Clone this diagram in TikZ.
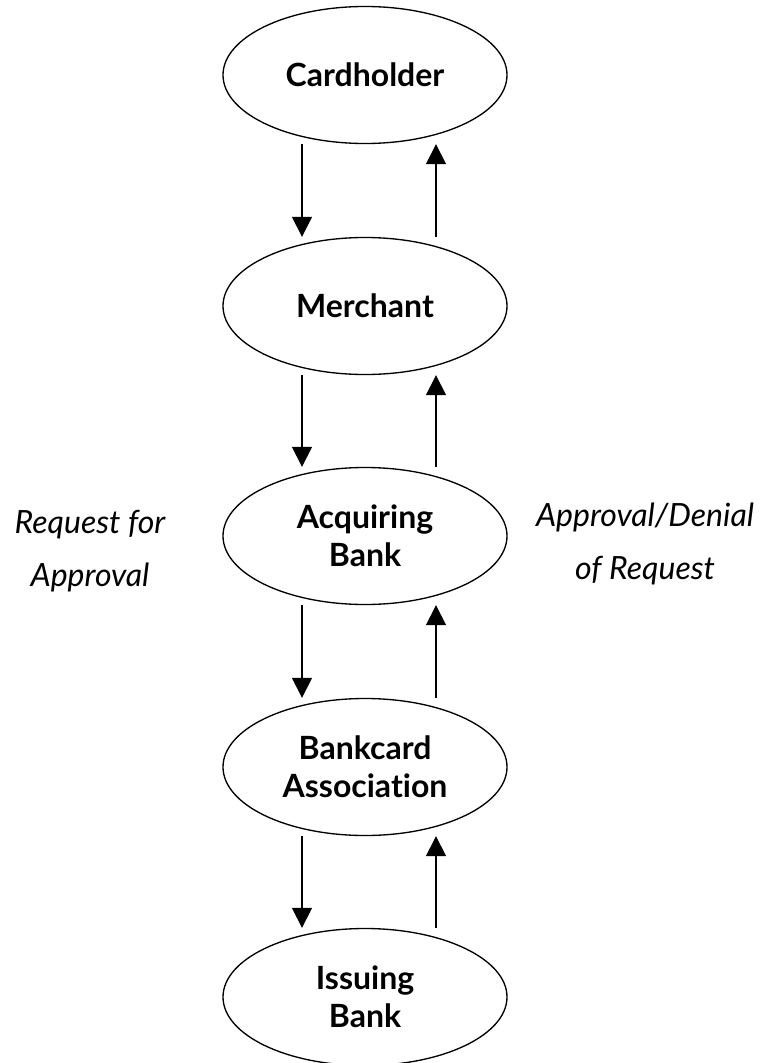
\documentclass[tikz,border=0pt]{standalone}
\usepackage{fontspec}
\setmainfont{Lato}[Ligatures=NoCommon]
\usetikzlibrary{arrows.meta,shapes.geometric}
\begin{document}
\begin{tikzpicture}[x=0.75pt,y=-0.75pt,
  party/.style={ellipse,draw,line width=1pt,minimum width=213pt,minimum height=102.75pt,inner sep=0pt,
    align=center,font=\fontsize{24}{28.5}\selectfont\bfseries},
  flow/.style={line width=1pt,-{Triangle[width=15pt,length=15pt]}},
  lbl/.style={align=center,font=\fontsize{24}{40}\selectfont\itshape}]
\useasboundingbox (0,0) rectangle (766,1063);
\node[party] (ch) at (365,75) {Cardholder};
\node[party] (me) at (365,306) {Merchant};
\node[party] (ab) at (365,536) {Acquiring\\Bank};
\node[party] (ba) at (365,767) {Bankcard\\Association};
\node[party] (ib) at (365,997) {Issuing\\Bank};
\coordinate (L) at (302,0);
\coordinate (R) at (436,0);
\foreach \a/\b in {ch/me,me/ab,ab/ba,ba/ib}{
  \draw[flow] (\a.south -| L) -- (\b.north -| L);
  \draw[flow] (\b.north -| R) -- (\a.south -| R);
}
\node[lbl] (req) at (90,551) {Request for\\Approval};
\node[lbl] (app) at (645,544) {Approval/Denial\\of Request};
\end{tikzpicture}
\end{document}
